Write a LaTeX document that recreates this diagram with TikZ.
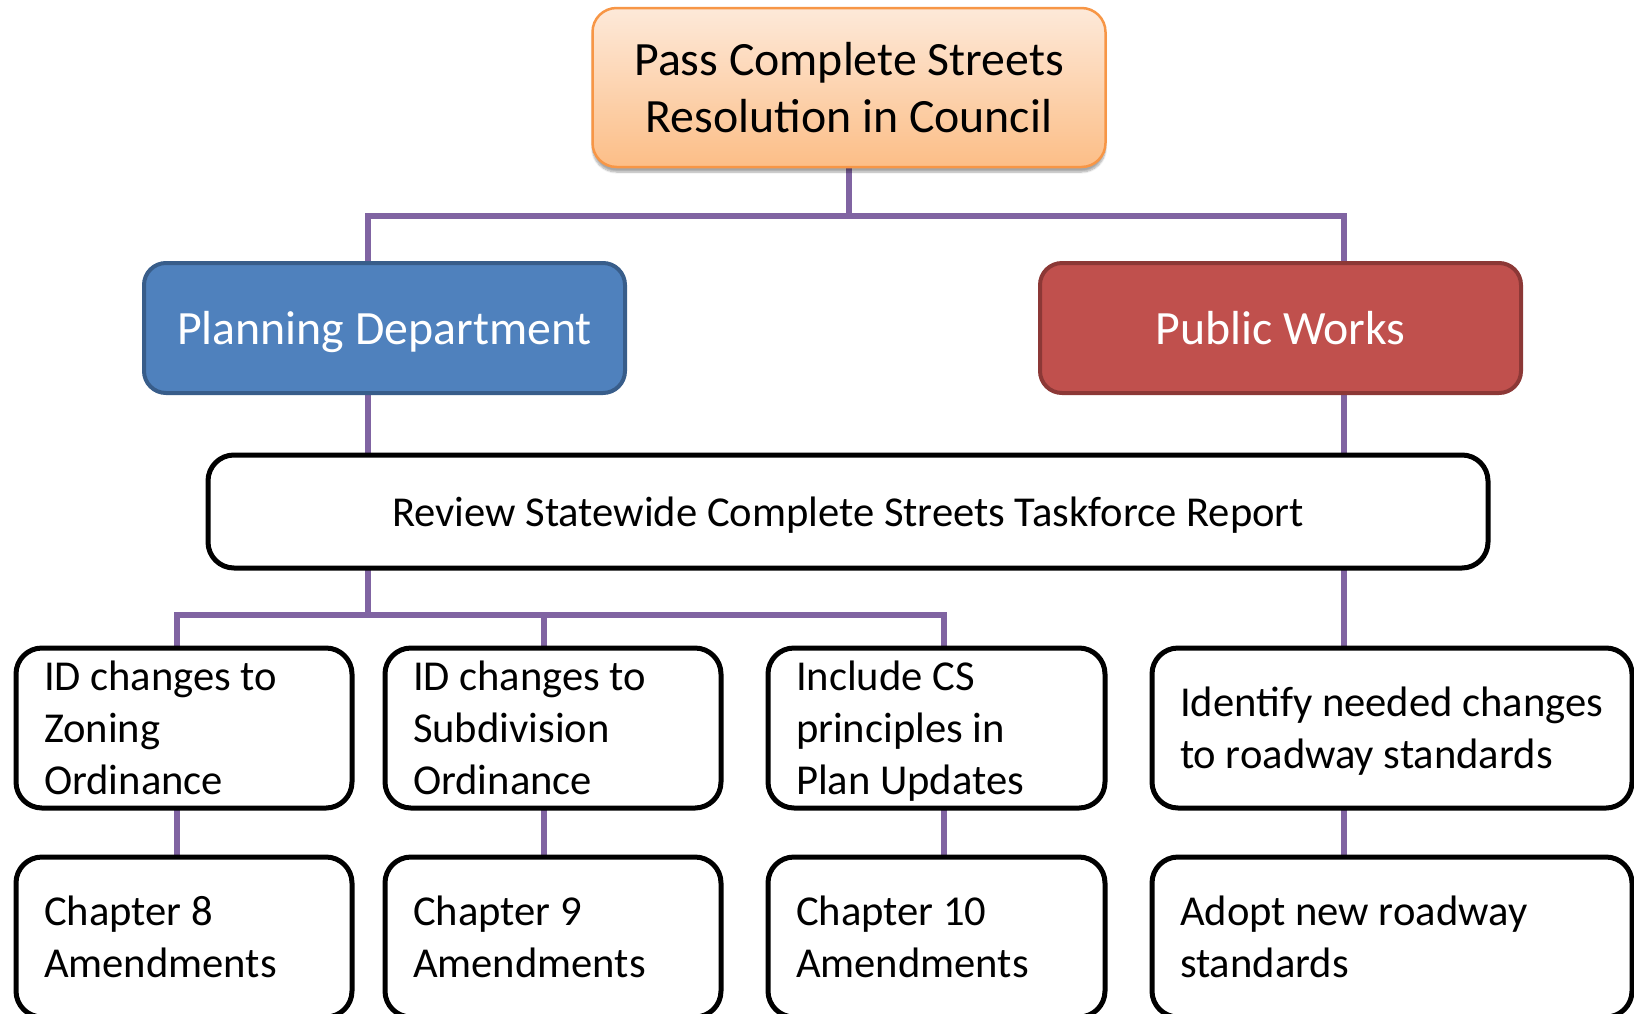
\documentclass[tikz,border=0pt]{standalone}
\usepackage{fontspec}
\setmainfont{Carlito}
\usetikzlibrary{backgrounds,shadows.blur}
\definecolor{conncol}{HTML}{8064A2}
\definecolor{pdfill}{HTML}{4F81BD}
\definecolor{pddraw}{HTML}{385D8A}
\definecolor{pwfill}{HTML}{C0504D}
\definecolor{pwdraw}{HTML}{8C3836}
\definecolor{toptop}{HTML}{FDE9D9}
\definecolor{topbot}{HTML}{FCBE87}
\definecolor{topdraw}{HTML}{F79646}
\tikzset{
  conn/.style={draw=conncol, line width=5.5pt},
  wbox/.style={draw=black, line width=5pt, rounded corners=26pt, fill=white, inner sep=0pt,
    font=\fontsize{42.6}{52}\selectfont},
  lbox/.style={wbox, align=flush left, inner xsep=28pt, minimum height=160pt},
  dept/.style={line width=4pt, rounded corners=22pt, minimum width=481pt, minimum height=130pt,
    text=white, text depth=0pt, font=\fontsize{47.8}{57}\selectfont},
}
\begin{document}
\begin{tikzpicture}[x=1pt,y=-1pt]
\useasboundingbox (0,0) rectangle (1634,1013);
\clip (0,0) rectangle (1634,1013);
% nodes
\node[draw=topdraw, line width=2.5pt, rounded corners=24pt, top color=toptop, bottom color=topbot,
  minimum width=513pt, minimum height=159pt, align=center, font=\fontsize{47.8}{57}\selectfont,
  blur shadow={shadow xshift=0pt, shadow yshift=-5pt, shadow blur steps=8, shadow opacity=35}]
  (top) at (849,87.5) {Pass Complete Streets\\Resolution in Council};
\node[dept, draw=pddraw, fill=pdfill] (pd) at (384.5,328) {Planning Department};
\node[dept, draw=pwdraw, fill=pwfill] (pw) at (1280.5,328) {Public Works};
\node[wbox, minimum width=1280pt, minimum height=113pt, text depth=0pt] (rev) at (848,511.5)
  {Review Statewide Complete Streets Taskforce Report};
\node[lbox, text width=280pt] (r3a) at (184,728) {ID changes to\\Zoning\\Ordinance};
\node[lbox, text width=280pt] (r3b) at (553,728) {ID changes to\\Subdivision\\Ordinance};
\node[lbox, text width=281pt] (r3c) at (936.5,728) {Include CS\\principles in\\\smash{Plan Updates}};
\node[lbox, text width=424pt] (r3d) at (1392,728) {Identify needed changes\\\smash{to roadway standards}};
\node[lbox, text width=280pt] (r4a) at (184,937) {Chapter 8\\Amendments};
\node[lbox, text width=280pt] (r4b) at (553,937) {Chapter 9\\Amendments};
\node[lbox, text width=281pt] (r4c) at (936.5,937) {Chapter 10\\Amendments};
\node[lbox, text width=424pt] (r4d) at (1392,937) {Adopt new roadway\\standards};
% junction coordinates
\coordinate (jL) at (368,216);
\coordinate (jR) at (1344,216);
\coordinate (bA) at (177,615);
\coordinate (bB) at (544,615);
\coordinate (bC) at (944,615);
\begin{pgfonlayer}{background}
\draw[conn] (top) -- (top |- jL);
\draw[conn] (jL |- rev) -- (jL) -- (jR) -- (jR |- r4d);
\draw[conn] (jL |- rev) -- (jL |- bA);
\draw[conn] (bA |- r4a) -- (bA) -- (bC) -- (bC |- r4c);
\draw[conn] (bB) -- (bB |- r4b);
\end{pgfonlayer}
\end{tikzpicture}
\end{document}
